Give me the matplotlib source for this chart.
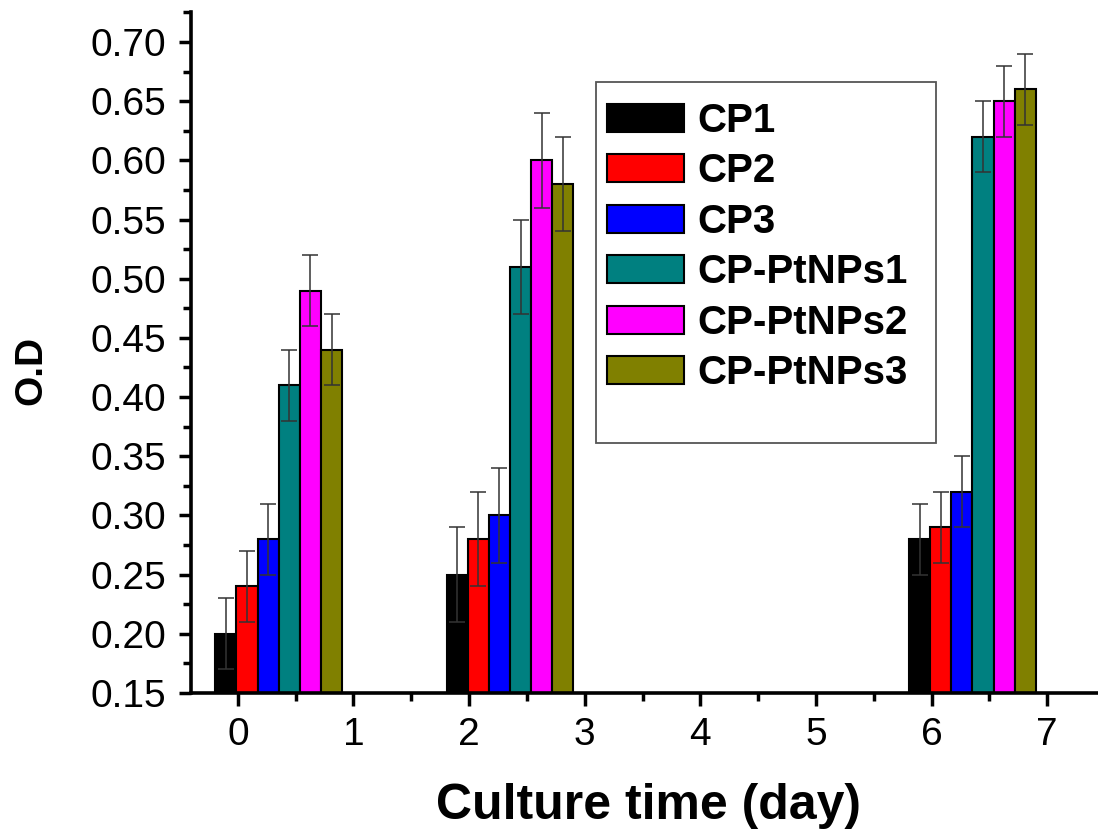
import matplotlib
matplotlib.use("Agg")
import matplotlib.pyplot as plt
import numpy as np
from matplotlib.patches import Rectangle
from matplotlib.ticker import MultipleLocator, FormatStrFormatter

plt.rcParams['font.family'] = ['Liberation Sans', 'DejaVu Sans']

# culture days and groups
days = [0, 2, 6]
groups = ['CP1', 'CP2', 'CP3', 'CP-PtNPs1', 'CP-PtNPs2', 'CP-PtNPs3']
colors = ['#000000', '#ff0000', '#0000ff', '#008080', '#ff00ff', '#808000']

# O.D values per group (day 0, 2, 6)
cp1 = [0.20, 0.25, 0.28]
cp2 = [0.24, 0.28, 0.29]
cp3 = [0.28, 0.30, 0.32]
ptnps1 = [0.41, 0.51, 0.62]
ptnps2 = [0.49, 0.60, 0.65]
ptnps3 = [0.44, 0.58, 0.66]

# error bars
err_cp1 = [0.03, 0.04, 0.03]
err_cp2 = [0.03, 0.04, 0.03]
err_cp3 = [0.03, 0.04, 0.03]
err_ptnps1 = [0.03, 0.04, 0.03]
err_ptnps2 = [0.03, 0.04, 0.03]
err_ptnps3 = [0.03, 0.04, 0.03]

values = [cp1, cp2, cp3, ptnps1, ptnps2, ptnps3]
errors = [err_cp1, err_cp2, err_cp3, err_ptnps1, err_ptnps2, err_ptnps3]

W, H = 1098, 834
fig = plt.figure(figsize=(W / 100, H / 100), dpi=100)
ax = fig.add_axes([191 / W, 1 - 693 / H, 914 / W, (693 - 12.4) / H])

width = 0.183
start = -0.195
x = np.array(days, dtype=float)
for i, (name, col, val, err) in enumerate(zip(groups, colors, values, errors)):
    pos = x + start + width * (i + 0.5)
    ax.bar(pos, val, width, color=col, edgecolor='black', linewidth=1.5,
           label=name, zorder=2)
    ax.errorbar(pos, val, yerr=err, fmt='none', ecolor='#333333',
                elinewidth=1.1, capsize=6, capthick=1.1, zorder=3)

ax.set_xlim(-0.405, 7.5)
ax.set_ylim(0.15, 0.725)
ax.set_xticks(range(0, 8))
ax.xaxis.set_minor_locator(MultipleLocator(0.5))
ax.yaxis.set_major_locator(MultipleLocator(0.05))
ax.yaxis.set_minor_locator(MultipleLocator(0.025))
ax.yaxis.set_major_formatter(FormatStrFormatter('%.2f'))

for s in ['top', 'right']:
    ax.spines[s].set_visible(False)
for s in ['left', 'bottom']:
    ax.spines[s].set_linewidth(2.6)

ax.tick_params(which='major', direction='out', length=9, width=2.5, labelsize=28)
ax.tick_params(which='minor', direction='out', length=5.5, width=2.5)
ax.tick_params(axis='x', which='major', pad=8)
ax.tick_params(axis='y', which='major', pad=9)

ax.set_xlabel('Culture time (day)', fontsize=36, fontweight='bold')
ax.xaxis.set_label_coords(0.5, -0.132)
ax.set_ylabel('O.D', fontsize=28, fontweight='bold')
ax.yaxis.set_label_coords(-0.155, 0.474)

fs = 29
fpx = fs * 100 / 72
ax.legend(loc='upper left', bbox_to_anchor=(607 / W, 1 - 102 / H),
          bbox_transform=fig.transFigure, frameon=False, borderpad=0,
          borderaxespad=0, handlelength=77 / fpx, handleheight=28 / fpx,
          handletextpad=13 / fpx, labelspacing=0.31,
          prop={'size': fs, 'weight': 'bold'})
fig.patches.append(Rectangle((596 / W, 1 - 443 / H), 340 / W, 361 / H,
                             transform=fig.transFigure, fill=False,
                             edgecolor='#555555', linewidth=1.3))

fig.savefig('out.png', dpi=100)
